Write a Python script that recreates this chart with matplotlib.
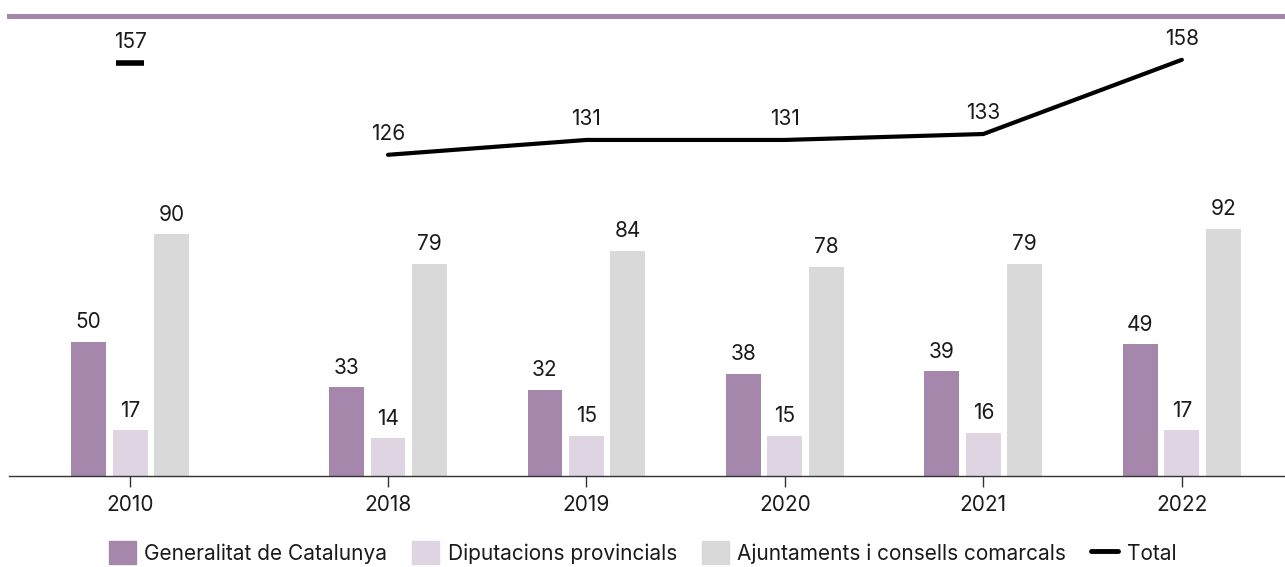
import numpy as np
import matplotlib.pyplot as plt
from matplotlib.patches import Patch
from matplotlib.lines import Line2D

plt.rcParams['font.family'] = ['Inter', 'DejaVu Sans']

years = ['2010', '2018', '2019', '2020', '2021', '2022']
generalitat = [50, 33, 32, 38, 39, 49]
diputacions = [17, 14, 15, 15, 16, 17]
ajuntaments = [90, 79, 84, 78, 79, 92]
total = [157, 126, 131, 131, 133, 158]

c_gen = '#a487ab'
c_dip = '#dfd5e2'
c_aju = '#d9d9d9'
txt = '#1a1a1a'
fs = 15

# 2010 queda separat de la resta (2011-2017 sense dades)
x = np.array([0, 1.3, 2.3, 3.3, 4.3, 5.3])
w = 0.176
off = 0.209

fig = plt.figure(figsize=(12.85, 5.67), dpi=100)
ax = fig.add_axes([0.007, 0.1605, 0.993, 0.811])

ax.bar(x - off, generalitat, w, color=c_gen)
ax.bar(x, diputacions, w, color=c_dip)
ax.bar(x + off, ajuntaments, w, color=c_aju)

for xs, vals in [(x - off, generalitat), (x, diputacions), (x + off, ajuntaments)]:
    for xi, v in zip(xs, vals):
        ax.annotate(str(v), (xi, v), xytext=(0, 7), textcoords='offset points',
                    ha='center', va='bottom', fontsize=fs, color=txt)

ax.set_xlim(-0.61, 5.82)
ax.set_ylim(0, 171.3)
ax.set_yticks([])
ax.set_xticks(x)
ax.set_xticklabels(years, fontsize=fs, color=txt)
ax.tick_params(axis='x', length=8, width=1, color='#333333', pad=6)
for s in ['left', 'right']:
    ax.spines[s].set_visible(False)
ax.spines['bottom'].set_color('#333333')
ax.spines['bottom'].set_linewidth(1)
ax.spines['top'].set_color(c_gen)
ax.spines['top'].set_linewidth(3.6)

ax2 = ax.twinx()
ax2.set_ylim(17.8, 172.7)
ax2.set_yticks([])
for s in ax2.spines.values():
    s.set_visible(False)
ax2.plot(x[1:], total[1:], color='black', lw=3, solid_capstyle='round', solid_joinstyle='round')
ax2.plot(x[:1], total[:1], color='black', marker='_', markersize=20, markeredgewidth=4, lw=0)
for xi, v in zip(x, total):
    ax2.annotate(str(v), (xi, v), xytext=(0, 8), textcoords='offset points',
                 ha='center', va='bottom', fontsize=fs, color=txt)

handles = [Patch(color=c_gen, label='Generalitat de Catalunya'),
           Patch(color=c_dip, label='Diputacions provincials'),
           Patch(color=c_aju, label='Ajuntaments i consells comarcals'),
           Line2D([], [], color='black', lw=3.5, solid_capstyle='round', label='Total')]
fig.legend(handles=handles, loc='lower center', bbox_to_anchor=(0.5, -0.028), ncol=4,
           frameon=False, fontsize=fs, handlelength=1.3, handleheight=1.3,
           handletextpad=0.4, columnspacing=1.2, labelcolor=txt)

fig.savefig('out.png', dpi=100)
